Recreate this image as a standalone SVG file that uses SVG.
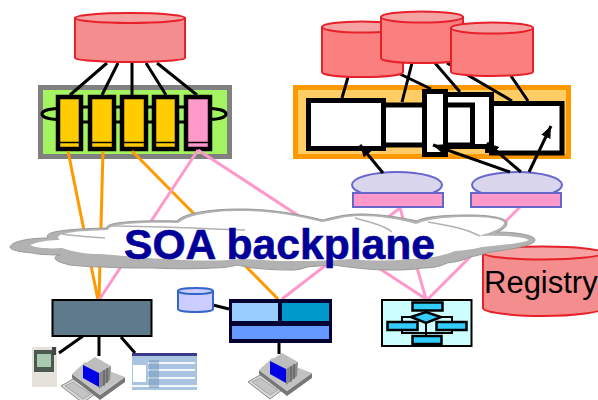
<svg xmlns="http://www.w3.org/2000/svg" width="598" height="400" viewBox="0 0 598 400">
<style>
.cyl{fill:#f48e8e;stroke:#e8202a;stroke-width:2}
.cylr{fill:#fa8080;stroke:#e8202a;stroke-width:2}
.top{fill:#f4a2a2;stroke:#e8202a;stroke-width:2}
.k{stroke:#000;fill:none}
.o{stroke:#ff9900;stroke-width:3;fill:none}
.p{stroke:#ff99cc;stroke-width:3;fill:none}
.w{fill:#fff;stroke:#000;stroke-width:5}
.comp{stroke:#000;stroke-width:4.5}
.lil{fill:#d9d6ee;stroke:#6666cc;stroke-width:2}
.pk{fill:#ff99cc;stroke:#6666cc;stroke-width:2}
.fl{fill:#33ccff;stroke:#000;stroke-width:2.500}
text{font-family:"Liberation Sans",Arial,sans-serif}
</style>
<defs>
<marker id="ah" markerUnits="userSpaceOnUse" markerWidth="14" markerHeight="12" refX="12" refY="5" orient="auto"><path d="M0,0L12,5L0,10Z" fill="#000"/></marker>
<g id="pc">
<path d="M248,382L260,375L282,390L270,399Z" fill="#d8d8d8" stroke="#8a8a8a"/>
<path d="M252,382L260,378L278,390L270,395Z" fill="#c4c4c4" stroke="#999" stroke-width=".7"/>
<path d="M259,370L259,374L287,396L312,378L312,373L287,391Z" fill="#777"/>
<path d="M259,370L272,358L312,373L287,391Z" fill="#c2c2c2"/>
<path d="M270,361L282,353L298,362L286,369Z" fill="#bdbdbd"/>
<path d="M286,369L298,362L297,376L286,385Z" fill="#8a8a8a"/>
<path d="M291,366L291,382M294,364L294,379" stroke="#555" fill="none"/>
<path d="M270,361L286,369L286,383L270,374Z" fill="#0000e6"/>
</g>
<path id="cloud" d="M10,247C12,241 30,238 48,238C43,232 62,229 107,228C104,222 140,220 177,221C185,212 215,209 240,209C265,209 290,212 323,220C330,218 345,214 360,214C378,214 400,217 417,221C425,216 450,215 470,215C490,215 507,218 507,223C507,228 500,231 497,232C515,232 535,235 535,240C535,245 515,249 490,252C480,255 475,256 470,257C460,262 452,262 447,263C440,267 430,268 423,268C410,270 400,270 390,270C378,270 365,269 357,268C348,267 340,266 333,265C322,266 315,266 307,267C300,270 295,270 290,270C275,270 262,269 253,268C247,267 242,266 237,265C230,267 222,268 213,268C195,269 175,269 153,268C135,268 118,268 103,267C90,267 80,266 70,265C62,263 55,261 55,258C55,256 58,255 60,255C48,255 33,254 33,253C20,252 10,250 10,247Z"/>
</defs>
<g id="cluster-left">
<rect x="40.500" y="87.500" width="189" height="69" fill="#a3f460" stroke="#808080" stroke-width="5"/>
<path class="k" stroke-width="3" d="M58,108.500C46,109 42,112 42,114C42,116 46,119 58,119.500M210,108.500C222,109 226,112 226,114C226,116 222,119 210,119.500M80,107H186M80,122H186"/>
<g class="comp">
<rect x="58" y="97" width="23" height="52" fill="#ffcc00"/>
<rect x="90" y="97" width="24" height="52" fill="#ffcc00"/>
<rect x="122" y="97" width="24" height="52" fill="#ffcc00"/>
<rect x="154" y="97" width="23" height="52" fill="#ffcc00"/>
<rect x="186" y="97" width="24" height="52" fill="#ff99cc"/>
</g>
<path stroke="#000" stroke-width="1.500" d="M60,142.500H79M92,142.500H112M124,142.500H144M156,142.500H175M188,142.500H208"/>
</g>
<g id="cluster-right">
<rect x="295.500" y="87.500" width="273" height="69" fill="#ffcc66" stroke="#ff9900" stroke-width="5"/>
<rect x="445" y="94.500" width="46.500" height="52" class="w"/>
<rect x="380" y="105" width="92.500" height="40" class="w" stroke-width="4"/>
<rect x="491.500" y="103.500" width="70.500" height="49.500" class="w"/>
<path stroke="#000" stroke-width="5" d="M485,150.500H492"/>
<rect x="308.500" y="100.500" width="75" height="48" class="w"/>
<rect x="424.500" y="91.500" width="21" height="63" class="w"/>
</g>
<g id="connectors">
<path class="o" d="M68,151L98,300M103,151L99,300M132,151L278,299"/>
<path class="p" d="M198,150L99,300M198,150L426,299M400,208L426,299M400,208L282,299M520,207L428,299"/>
<path class="k" stroke-width="3" d="M107,63L70,95M118,63L102,95M132,63L132,95M146,63L166,95M157,63L197,95"/>
<path class="k" stroke-width="3" d="M83,336L59,353M99,336L99,356M121,337L135,353M213,305L229,309M279,343L279,354"/>
<path class="k" stroke-width="3" d="M348,77L342,98M412,63L402,102M400,74L431,89M435,63L460,92M447,63L512,101M511,76L528,101"/>
</g>
<g id="db-left">
<path class="cyl" d="M75,18V58C75,60 100,62 130,62C160,62 185,60 185,58V18Z"/>
<ellipse class="top" cx="130" cy="18" rx="55" ry="5"/>
</g>
<g id="dbs-right">
<g><path class="cylr" d="M322,27V72C322,75 340,77 362,77C385,77 403,75 403,72V27Z"/><ellipse class="top" cx="362" cy="27" rx="40" ry="5.500"/></g>
<g><path class="cylr" d="M381,17V58C381,61 400,63 422,63C445,63 463,61 463,58V17Z"/><ellipse class="top" cx="422" cy="17" rx="41" ry="5.500"/></g>
<g><path class="cylr" d="M451,28V72C451,74 470,76 492,76C515,76 533,74 533,72V28Z"/><ellipse class="top" cx="492" cy="28" rx="41" ry="5.500"/></g>
</g>
<g id="svc-left"><ellipse class="lil" cx="397" cy="185" rx="45" ry="13"/><rect class="pk" x="353" y="193" width="90" height="14"/></g>
<g id="svc-right"><ellipse class="lil" cx="517" cy="185" rx="45" ry="13"/><rect class="pk" x="471" y="193" width="90" height="14"/></g>
<g id="arrows" class="k" stroke-width="3">
<path d="M383,173L360,145" marker-end="url(#ah)"/>
<path d="M510,172L433,145" marker-end="url(#ah)"/>
<path d="M521,172L487,143" marker-end="url(#ah)"/>
<path d="M529,172L551,126" marker-end="url(#ah)"/>
</g>
<g id="registry">
<path class="cyl" d="M483,253V308C483,312 510,316 543,316C576,316 603,312 603,308V253Z"/>
<ellipse class="top" cx="543" cy="253" rx="60" ry="6.500"/>
<text x="484" y="293" font-size="31" fill="#000">Registry</text>
</g>
<g id="backplane">
<use href="#cloud" fill="#b2b2b2" stroke="#999" stroke-width="1"/>
<path fill="#fff" d="M30,245C40,241 50,240 60,240C52,234 70,231 108,230C108,224 140,222 178,223C190,214 215,211 240,211C265,211 290,214 322,222C335,220 345,216 360,216C378,216 400,219 416,224C430,218 450,217 470,217C488,217 504,219 504,223C504,228 490,233 478,236C505,235 525,237 529,240C520,244 500,245 482,247C470,250 465,250 455,251C445,255 430,259 410,259C390,261 370,261 350,259C330,261 310,261 290,261C270,261 255,259 240,259C220,261 195,261 170,259C150,259 130,256 100,254C85,254 75,252 62,248C50,249 35,248 30,245Z"/>
<path fill="none" stroke="#b2b2b2" stroke-width="1.500" d="M62,234C75,236 90,237 105,238M112,226C150,226 190,228 245,230M355,218C370,222 385,226 392,232M428,222C450,226 465,228 480,236"/>
<text x="124" y="259" font-size="42.600" font-weight="700" fill="#000099" stroke="#000099" stroke-width=".6">SOA backplane</text>
</g>
<g id="client">
<rect x="52.500" y="300" width="99" height="36" fill="#5f7a8a" stroke="#000" stroke-width="2"/>
</g>
<g id="phone">
<rect x="32" y="347" width="25" height="40" fill="#e4e2da"/>
<rect x="34" y="350" width="20" height="22" fill="#4a5a50"/>
<rect x="37" y="354" width="14" height="13" fill="#a9c9b0"/>
<rect x="52" y="347" width="4" height="8" fill="#444"/>
</g>
<use id="pc-left" href="#pc" transform="translate(-187,4)"/>
<g id="screenshot">
<rect x="132" y="353" width="65" height="37" fill="#a9c4e0"/>
<rect x="132" y="353" width="65" height="3" fill="#3a3a8a"/>
<rect x="133" y="365" width="13" height="17" fill="#fff"/>
<path stroke="#f4f8fb" stroke-width="2" d="M148,363H195M148,370H195M148,378H195M132,386H197"/>
<rect x="149" y="360" width="10" height="28" fill="#6f93b8" opacity=".5"/>
</g>
<g id="db-small">
<path d="M178,291V309C178,311 186,312 195.500,312C205,312 213,311 213,309V291Z" fill="#ccccff" stroke="#3366cc" stroke-width="2"/>
<ellipse cx="195.500" cy="291" rx="17.500" ry="3" fill="#ccccff" stroke="#3366cc" stroke-width="2"/>
</g>
<g id="service-blue">
<rect x="229" y="299" width="103" height="44" fill="#000033"/>
<rect x="232" y="303" width="46" height="18" fill="#99ccff"/>
<rect x="282" y="303" width="47" height="18" fill="#0099cc"/>
<rect x="232" y="326" width="97" height="13" fill="#6699ff"/>
</g>
<use id="pc-right" href="#pc"/>
<g id="flow">
<rect x="382" y="300" width="89.500" height="46" fill="#ccffff" stroke="#000" stroke-width="2"/>
<path class="k" stroke-width="2" d="M402,322V317H411M441,317H452V322M402,330V333H452V330M426,310V312M426,323V336"/>
<rect class="fl" x="412.500" y="302.500" width="30" height="8"/>
<path class="fl" d="M411,317L426,312L441,317L426,323Z"/>
<rect class="fl" x="387.500" y="322" width="30" height="8"/>
<rect class="fl" x="436.500" y="322" width="30" height="8"/>
<rect class="fl" x="412.500" y="336" width="29" height="8"/>
</g>
</svg>
